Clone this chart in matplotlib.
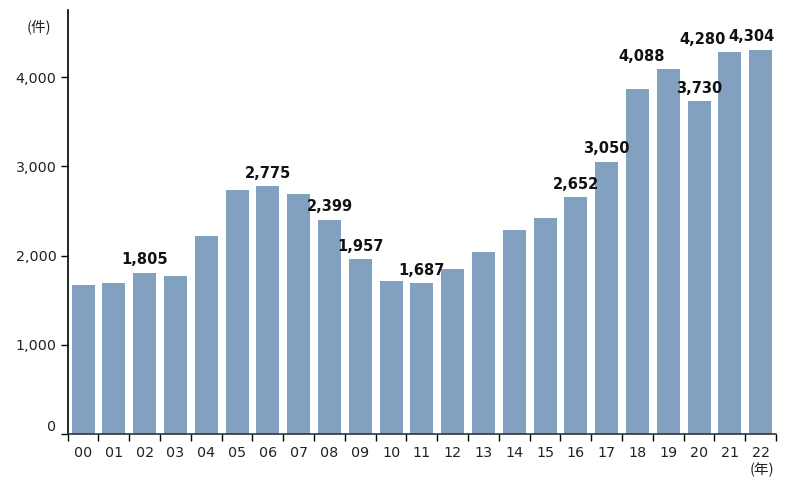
import numpy as np
import matplotlib
matplotlib.use("Agg")
from matplotlib import pyplot as plt
from matplotlib.transforms import ScaledTranslation

plt.rcParams['font.family'] = ['DejaVu Sans', 'Noto Sans CJK JP']

years = ["00", "01", "02", "03", "04", "05", "06", "07", "08", "09", "10",
         "11", "12", "13", "14", "15", "16", "17", "18", "19", "20", "21", "22"]
cases = [1670, 1693, 1805, 1771, 2220, 2735, 2775, 2690, 2399, 1957, 1715,
         1687, 1850, 2044, 2287, 2421, 2652, 3050, 3868, 4088, 3730, 4280, 4304]
# bars that get a value label, and a small sideways nudge (in bars) for a few
labelled = [2, 6, 8, 9, 11, 16, 17, 19, 20, 21, 22]
nudge = {19: -0.85, 21: -0.9, 22: -0.3}
yticks = [0, 1000, 2000, 3000, 4000]

fig = plt.figure(figsize=(7.96, 4.87), dpi=100)
ax = fig.add_axes([0.085, 0.109, 0.89, 0.87])

x = np.arange(len(years))
ax.bar(x, cases, width=0.75, color="#82a1c0")

for i in labelled:
    ax.annotate(f"{cases[i]:,}", (x[i] + nudge.get(i, 0), cases[i]),
                xytext=(0, 4), textcoords="offset points",
                ha="center", va="bottom", fontsize=10.5, fontweight="bold",
                color="#111111")

ax.set_xlim(-0.5, len(years) - 0.5)
ax.set_ylim(0, 4750)

ax.set_yticks(yticks)
ax.set_yticklabels([f"{v:,}" for v in yticks])
ax.tick_params(axis="y", length=5, width=1, pad=3, labelsize=10.3,
               labelcolor="#222222")

ax.set_xticks(x)
ax.set_xticklabels(years)
ax.set_xticks(np.arange(-0.5, len(years)), minor=True)
ax.tick_params(axis="x", which="major", length=0, pad=9, labelsize=10.3,
               labelcolor="#222222")
ax.tick_params(axis="x", which="minor", length=5, width=1)

# the "0" label sits a little above its tick
lab0 = ax.get_yticklabels()[0]
lab0.set_transform(lab0.get_transform() + ScaledTranslation(0, 8 / 100, fig.dpi_scale_trans))

for s in ["top", "right"]:
    ax.spines[s].set_visible(False)
ax.spines["left"].set_linewidth(1.2)
ax.spines["bottom"].set_linewidth(1.2)
ax.spines["bottom"].set_color("#333333")

fig.text(39 / 796, 1 - 27 / 487, "(件)", ha="center", va="center",
         fontsize=10.5, family=['Noto Sans CJK JP'], color="#222222")
fig.text(762 / 796, 1 - 470 / 487, "(年)", ha="center", va="center",
         fontsize=10.5, family=['Noto Sans CJK JP'], color="#222222")

fig.savefig("out.png", dpi=100)
